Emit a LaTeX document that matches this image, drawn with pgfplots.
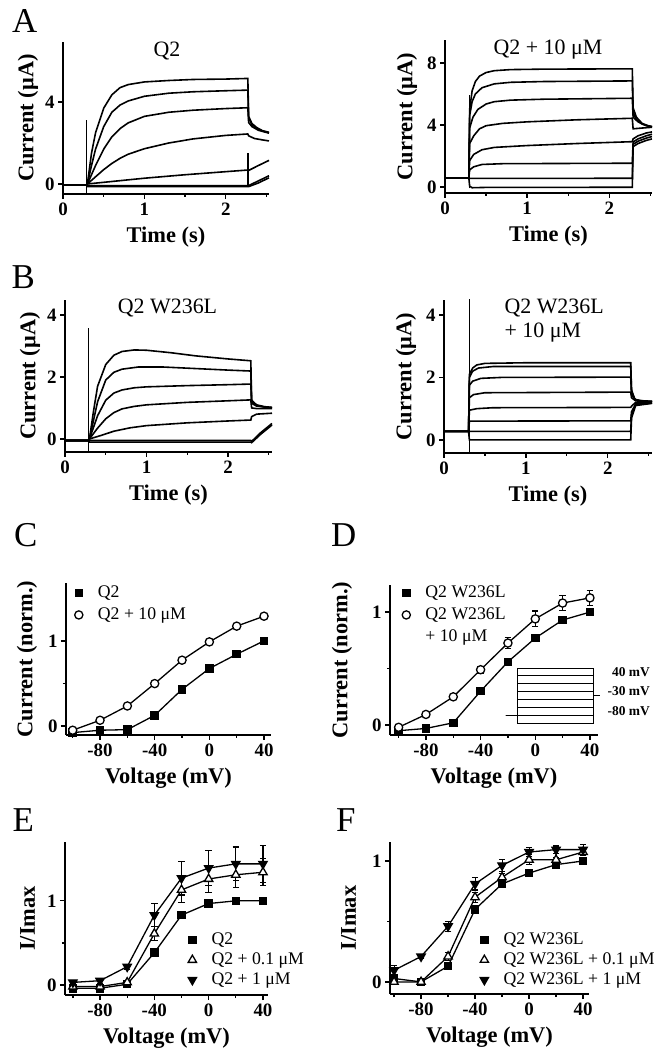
\documentclass[border=0pt]{standalone}
\usepackage{fontspec}
\setmainfont{Liberation Serif}
\usepackage{pgfplots}
\pgfplotsset{compat=1.18}

\newcommand{\tickf}{\fontsize{19}{20}\selectfont\bfseries}
\newcommand{\labf}{\fontsize{22.5}{24}\selectfont\bfseries}
\newcommand{\titf}{\fontsize{22}{24}\selectfont}
\newcommand{\legf}{\fontsize{17.8}{20}\selectfont}
\newcommand{\letf}{\fontsize{35}{36}\selectfont}
\newcommand{\insf}{\fontsize{13.5}{14}\selectfont\bfseries}

\pgfplotsset{
  panel/.style={
    scale only axis, anchor=south west, clip=false,
    axis lines=left, axis line style={-, line width=1.8bp},
    tick align=outside, major tick length=5bp, minor tick length=3bp,
    every tick/.append style={line width=1.3bp, black},
    tick label style={font=\tickf},
    label style={font=\labf},
    xlabel shift=5bp,
    /pgf/number format/assume math mode=true,
  },
  tr/.style={panel, xtick={0,1,2}, minor xtick={0.5,1.5,2.5},
    xmin=0, xlabel={Time (s)}, ylabel={Current (μA)}},
  iv/.style={panel, xtick={-80,-40,0,40}, minor xtick={-100,-60,-20,20},
    ytick={0,1}, minor ytick={0.5}, xlabel={Voltage (mV)},
    legend cell align=left,
    legend image code/.code={\draw[##1, only marks] plot coordinates {(0cm,0cm)};},
    legend style={draw=none, fill=none, font=\legf, inner sep=0pt,
      row sep=2.5bp, column sep=14bp,
      nodes={inner sep=1bp, text height=13bp, text depth=4.5bp},
      at={(axis description cs:0,1)}, anchor=north west}},
  trace/.style={black, line width=1.6bp, no marks},
  sq/.style={black, line width=1.3bp, mark=square*, mark size=3.6bp, mark options={solid, fill=black}},
  ci/.style={black, line width=1.3bp, mark=*, mark size=4.1bp, mark options={solid, fill=white}},
  tu/.style={black, line width=1.3bp, mark=triangle*, mark size=4.8bp, mark options={solid, fill=white}},
  td/.style={black, line width=1.3bp, mark=triangle*, mark size=4.8bp, mark options={solid, fill=black, rotate=180}},
  err/.style={error bars/.cd, y dir=both, y explicit,
    error bar style={line width=1.1bp, black},
    error mark options={rotate=90, mark size=3.2bp, line width=1.1bp, black}},
}

\begin{document}
\begin{tikzpicture}
\path[use as bounding box] (0,0) rectangle (654bp,1049bp);

% ---------- A left: Q2
\begin{axis}[tr, at={(63bp,855bp)}, width=206bp, height=152bp,
  xmax=2.53, ymin=-0.49, ymax=6.93, ytick={0,4}]
\addplot[trace] coordinates {(0,-0.05) (0.29,-0.05) (0.30,0) (0.35,1.5) (0.40,2.5) (0.50,3.7) (0.60,4.35) (0.70,4.70) (0.80,4.85) (1.00,4.98) (1.30,5.05) (1.60,5.10) (2.00,5.12) (2.27,5.15) (2.28,3.30) (2.32,2.95) (2.38,2.75) (2.45,2.60) (2.53,2.52)};
\addplot[trace] coordinates {(0,-0.05) (0.29,-0.05) (0.30,0) (0.35,0.9) (0.40,1.7) (0.50,2.8) (0.60,3.5) (0.70,3.85) (0.80,4.05) (1.00,4.28) (1.30,4.43) (1.60,4.50) (2.00,4.55) (2.27,4.58) (2.28,3.20) (2.32,2.90) (2.38,2.70) (2.45,2.58) (2.53,2.50)};
\addplot[trace] coordinates {(0,-0.05) (0.29,-0.05) (0.30,0) (0.40,0.9) (0.50,1.7) (0.60,2.3) (0.70,2.7) (0.80,2.98) (1.00,3.30) (1.30,3.50) (1.60,3.60) (2.00,3.68) (2.27,3.72) (2.28,3.00) (2.32,2.80) (2.40,2.62) (2.53,2.48)};
\addplot[trace] coordinates {(0,-0.05) (0.29,-0.05) (0.30,0) (0.40,0.35) (0.50,0.70) (0.60,1.00) (0.70,1.25) (0.80,1.45) (1.00,1.72) (1.30,2.00) (1.60,2.20) (2.00,2.37) (2.27,2.44) (2.28,2.35) (2.35,2.22) (2.45,2.15) (2.53,2.10)};
\addplot[trace] coordinates {(0,-0.05) (0.29,-0.05) (0.30,0) (0.60,0.12) (1.00,0.28) (1.50,0.45) (2.00,0.60) (2.27,0.68) (2.28,0.66) (2.40,0.90) (2.53,1.15)};
\addplot[trace] coordinates {(0,-0.05) (0.29,-0.05) (0.30,-0.08) (2.27,-0.08) (2.28,-0.08) (2.40,0.15) (2.53,0.40)};
\addplot[trace] coordinates {(0,-0.05) (0.29,-0.05) (0.30,-0.13) (2.27,-0.13) (2.28,-0.13) (2.40,0.05) (2.53,0.30)};
\addplot[trace] coordinates {(0.29,-0.45) (0.29,3.1)};
\addplot[trace] coordinates {(2.27,-0.15) (2.27,1.5)};
\end{axis}

% ---------- A right: Q2 + 10 uM
\begin{axis}[tr, at={(445bp,856bp)}, width=207bp, height=153bp,
  xmax=2.52, ymin=-0.39, ymax=9.48, ytick={0,4,8}, ylabel shift=3bp]
\addplot[trace] coordinates {(0,0.58) (0.29,0.58) (0.30,5.0) (0.33,6.2) (0.37,6.8) (0.42,7.15) (0.50,7.38) (0.60,7.50) (0.80,7.57) (1.20,7.60) (2.28,7.62) (2.29,5.10) (2.33,4.50) (2.40,4.10) (2.47,3.95) (2.52,3.90)};
\addplot[trace] coordinates {(0,0.58) (0.29,0.58) (0.30,4.6) (0.33,5.5) (0.37,6.0) (0.45,6.4) (0.60,6.65) (0.80,6.75) (1.20,6.80) (2.28,6.84) (2.29,4.80) (2.33,4.35) (2.40,4.05) (2.52,3.88)};
\addplot[trace] coordinates {(0,0.58) (0.29,0.58) (0.30,3.8) (0.34,4.5) (0.40,5.0) (0.50,5.35) (0.60,5.50) (0.80,5.60) (1.20,5.66) (2.28,5.72) (2.29,4.50) (2.35,4.20) (2.45,3.95) (2.52,3.87)};
\addplot[trace] coordinates {(0,0.58) (0.29,0.58) (0.30,2.8) (0.35,3.3) (0.42,3.75) (0.50,3.95) (0.70,4.10) (1.00,4.20) (1.60,4.33) (2.28,4.43) (2.29,3.75) (2.40,3.80) (2.52,3.85)};
\addplot[trace] coordinates {(0,0.58) (0.29,0.58) (0.30,1.7) (0.35,2.1) (0.45,2.4) (0.60,2.55) (1.00,2.67) (1.60,2.80) (2.28,2.92) (2.29,3.10) (2.35,3.30) (2.45,3.48) (2.52,3.55)};
\addplot[trace] coordinates {(0,0.58) (0.29,0.58) (0.30,1.1) (0.35,1.3) (0.45,1.45) (0.70,1.50) (2.28,1.53) (2.29,2.90) (2.35,3.10) (2.45,3.30) (2.52,3.40)};
\addplot[trace] coordinates {(0,0.58) (0.29,0.58) (0.30,0.55) (2.28,0.56) (2.29,2.75) (2.35,2.95) (2.45,3.15) (2.52,3.25)};
\addplot[trace] coordinates {(0,0.58) (0.29,0.58) (0.30,0.05) (0.33,-0.05) (0.50,-0.03) (2.28,-0.02) (2.29,2.60) (2.35,2.80) (2.45,3.00) (2.52,3.10)};
\addplot[trace] coordinates {(0.30,-0.1) (0.30,5.9)};
\end{axis}

% ---------- B left: Q2 W236L
\begin{axis}[tr, at={(65bp,597bp)}, width=207bp, height=152bp,
  xmax=2.54, ymin=-0.42, ymax=4.48, ytick={0,2,4}]
\addplot[trace] coordinates {(0,-0.05) (0.29,-0.05) (0.30,0) (0.35,0.9) (0.40,1.7) (0.50,2.4) (0.60,2.7) (0.70,2.82) (0.85,2.87) (1.00,2.86) (1.30,2.78) (1.60,2.68) (2.00,2.58) (2.28,2.52) (2.29,1.25) (2.35,1.10) (2.45,1.04) (2.54,1.02)};
\addplot[trace] coordinates {(0,-0.05) (0.29,-0.05) (0.30,0) (0.35,0.6) (0.40,1.2) (0.50,1.9) (0.60,2.15) (0.70,2.25) (0.90,2.32) (1.20,2.32) (1.60,2.27) (2.00,2.22) (2.28,2.19) (2.29,1.20) (2.35,1.08) (2.45,1.03) (2.54,1.01)};
\addplot[trace] coordinates {(0,-0.05) (0.29,-0.05) (0.30,0) (0.40,0.75) (0.50,1.25) (0.60,1.48) (0.70,1.58) (0.85,1.65) (1.00,1.68) (1.50,1.72) (2.00,1.75) (2.28,1.77) (2.29,1.15) (2.35,1.06) (2.54,1.00)};
\addplot[trace] coordinates {(0,-0.05) (0.29,-0.05) (0.30,0) (0.40,0.35) (0.50,0.65) (0.60,0.85) (0.70,0.97) (0.85,1.05) (1.00,1.10) (1.50,1.18) (2.00,1.23) (2.28,1.26) (2.29,1.00) (2.35,0.98) (2.54,0.98)};
\addplot[trace] coordinates {(0,-0.05) (0.29,-0.05) (0.30,0) (0.45,0.12) (0.60,0.25) (0.80,0.36) (1.00,0.43) (1.50,0.52) (2.00,0.58) (2.28,0.61) (2.29,0.72) (2.35,0.80) (2.54,0.83)};
\addplot[trace] coordinates {(0,-0.05) (0.29,-0.05) (0.30,-0.05) (2.28,-0.05) (2.29,-0.08) (2.40,0.20) (2.54,0.50)};
\addplot[trace] coordinates {(0,-0.05) (0.29,-0.05) (0.30,-0.10) (2.28,-0.10) (2.29,-0.12) (2.40,0.15) (2.54,0.45)};
\addplot[trace] coordinates {(0.29,-0.42) (0.29,3.58)};
\end{axis}

% ---------- B right: Q2 W236L + 10 uM
\begin{axis}[tr, at={(444bp,596bp)}, width=208bp, height=153bp,
  xmax=2.54, ymin=-0.42, ymax=4.48, ytick={0,2,4}, ylabel shift=3bp]
\addplot[trace] coordinates {(0,0.27) (0.30,0.27) (0.31,2.10) (0.35,2.30) (0.40,2.40) (0.50,2.45) (1.00,2.47) (2.28,2.47) (2.29,1.60) (2.33,1.30) (2.40,1.25) (2.54,1.24)};
\addplot[trace] coordinates {(0,0.27) (0.30,0.27) (0.31,2.00) (0.35,2.20) (0.42,2.30) (0.60,2.35) (2.28,2.35) (2.29,1.55) (2.33,1.30) (2.40,1.24) (2.54,1.23)};
\addplot[trace] coordinates {(0,0.27) (0.30,0.27) (0.31,1.75) (0.35,1.88) (0.45,1.97) (0.70,2.00) (2.28,2.01) (2.29,1.45) (2.34,1.28) (2.54,1.22)};
\addplot[trace] coordinates {(0,0.27) (0.30,0.27) (0.31,1.35) (0.36,1.45) (0.50,1.51) (2.28,1.53) (2.29,1.35) (2.34,1.25) (2.54,1.21)};
\addplot[trace] coordinates {(0,0.27) (0.30,0.27) (0.31,0.95) (0.40,1.00) (0.60,1.03) (2.28,1.04) (2.29,1.08) (2.34,1.20) (2.54,1.20)};
\addplot[trace] coordinates {(0,0.27) (0.30,0.27) (0.31,0.60) (2.28,0.61) (2.29,0.90) (2.34,1.15) (2.54,1.19)};
\addplot[trace] coordinates {(0,0.27) (0.30,0.27) (0.31,0.27) (2.28,0.27) (2.29,0.80) (2.34,1.12) (2.54,1.18)};
\addplot[trace] coordinates {(0,0.27) (0.30,0.27) (0.31,0.00) (2.28,0.00) (2.29,0.70) (2.34,1.10) (2.54,1.17)};
\addplot[trace] coordinates {(0.31,-0.42) (0.31,4.50)};
\end{axis}

% ---------- C
\begin{axis}[iv, at={(66bp,314bp)}, width=205bp, height=152bp,
  xmin=-104.9, xmax=45.1, ymin=-0.106, ymax=1.68,
  ylabel={Current (norm.)}, ylabel shift=4bp,
  legend style={xshift=8.5bp, yshift=0bp}]
\addplot[sq] coordinates {(-100,-0.078) (-80,-0.05) (-60,-0.043) (-40,0.125) (-20,0.43) (0,0.675) (20,0.843) (40,1.0)};
\addplot[ci] coordinates {(-100,-0.05) (-80,0.067) (-60,0.235) (-40,0.498) (-20,0.773) (0,0.988) (20,1.173) (40,1.29)};
\legend{Q2, Q2 + 10 μM}
\end{axis}

% ---------- D
\begin{axis}[iv, at={(390bp,314bp)}, width=208bp, height=150bp,
  xmin=-106.3, xmax=45.9, ymin=-0.088, ymax=1.24,
  ylabel={Current (norm.)}, ylabel shift=13bp,
  legend style={xshift=12bp, yshift=2bp}]
\addplot[sq, err] coordinates {(-100,-0.05) +- (0,0.01) (-80,-0.03) +- (0,0.01) (-60,0.02) +- (0,0.01) (-40,0.30) +- (0,0.015) (-20,0.56) +- (0,0.015) (0,0.77) +- (0,0.015) (20,0.93) +- (0,0.02) (40,1.0) +- (0,0)};
\addplot[ci, err] coordinates {(-100,-0.02) +- (0,0.01) (-80,0.094) +- (0,0.01) (-60,0.25) +- (0,0.015) (-40,0.49) +- (0,0.03) (-20,0.726) +- (0,0.05) (0,0.94) +- (0,0.07) (20,1.08) +- (0,0.065) (40,1.126) +- (0,0.065)};
\addlegendentry{Q2 W236L}
\addlegendentry{Q2 W236L}
\addlegendimage{empty legend}
\addlegendentry{+ 10 μM}
\end{axis}

% voltage protocol inset
\begin{axis}[at={(505.5bp,326bp)}, anchor=south west, scale only axis,
  width=96bp, height=55bp, xmin=0, xmax=2.5, ymin=-100, ymax=40,
  hide axis, clip=false]
\addplot[black, line width=0.9bp, no marks] coordinates {(0,-80) (0.3,-80) (0.3,-100) (2.3,-100) (2.3,-30) (2.45,-30)};
\addplot[black, line width=0.9bp, no marks] coordinates {(0,-80) (0.3,-80) (2.3,-80) (2.3,-30) (2.45,-30)};
\addplot[black, line width=0.9bp, no marks] coordinates {(0,-80) (0.3,-80) (0.3,-60) (2.3,-60) (2.3,-30) (2.45,-30)};
\addplot[black, line width=0.9bp, no marks] coordinates {(0,-80) (0.3,-80) (0.3,-40) (2.3,-40) (2.3,-30) (2.45,-30)};
\addplot[black, line width=0.9bp, no marks] coordinates {(0,-80) (0.3,-80) (0.3,-20) (2.3,-20) (2.3,-30) (2.45,-30)};
\addplot[black, line width=0.9bp, no marks] coordinates {(0,-80) (0.3,-80) (0.3,0) (2.3,0) (2.3,-30) (2.45,-30)};
\addplot[black, line width=0.9bp, no marks] coordinates {(0,-80) (0.3,-80) (0.3,20) (2.3,20) (2.3,-30) (2.45,-30)};
\addplot[black, line width=0.9bp, no marks] coordinates {(0,-80) (0.3,-80) (0.3,40) (2.3,40) (2.3,-30) (2.45,-30)};
\end{axis}

% ---------- E
\begin{axis}[iv, at={(65bp,54bp)}, width=203bp, height=153bp,
  xmin=-105.8, xmax=43.7, ymin=-0.12, ymax=1.70,
  ylabel={I/Imax}, ylabel shift=5bp,
  legend style={xshift=123bp, yshift=-88bp, row sep=0.5bp}]
\addplot[sq, err] coordinates {(-100,-0.04) +- (0,0.01) (-80,-0.04) +- (0,0.01) (-60,0.008) +- (0,0.01) (-40,0.383) +- (0,0.02) (-20,0.83) +- (0,0.03) (0,0.968) +- (0,0.01) (20,1.0) +- (0,0) (40,1.0) +- (0,0)};
\addplot[tu, err] coordinates {(-100,-0.02) +- (0,0.01) (-80,-0.02) +- (0,0.01) (-60,0.03) +- (0,0.02) (-40,0.61) +- (0,0.08) (-20,1.13) +- (0,0.15) (0,1.26) +- (0,0.16) (20,1.31) +- (0,0.15) (40,1.34) +- (0,0.16)};
\addplot[td, err] coordinates {(-100,0.03) +- (0,0.01) (-80,0.05) +- (0,0.03) (-60,0.217) +- (0,0.03) (-40,0.83) +- (0,0.14) (-20,1.27) +- (0,0.2) (0,1.39) +- (0,0.21) (20,1.44) +- (0,0.2) (40,1.44) +- (0,0.22)};
\legend{Q2, Q2 + 0.1 μM, Q2 + 1 μM}
\end{axis}

% ---------- F
\begin{axis}[iv, at={(390bp,55bp)}, width=199bp, height=152bp,
  xmin=-103, xmax=44.4, ymin=-0.1, ymax=1.157,
  ylabel={I/Imax}, ylabel shift=9bp,
  legend style={xshift=90bp, yshift=-88bp, row sep=0.5bp}]
\addplot[sq, err] coordinates {(-100,0.028) +- (0,0.03) (-80,0) +- (0,0.01) (-60,0.13) +- (0,0.02) (-40,0.60) +- (0,0.03) (-20,0.81) +- (0,0.02) (0,0.90) +- (0,0.02) (20,0.97) +- (0,0.015) (40,1.0) +- (0,0)};
\addplot[tu, err] coordinates {(-100,0) +- (0,0.01) (-80,0) +- (0,0.01) (-60,0.21) +- (0,0.03) (-40,0.70) +- (0,0.04) (-20,0.865) +- (0,0.03) (0,1.01) +- (0,0.04) (20,1.01) +- (0,0.02) (40,1.074) +- (0,0.03)};
\addplot[td, err] coordinates {(-100,0.096) +- (0,0.04) (-80,0.21) +- (0,0.02) (-60,0.46) +- (0,0.04) (-40,0.81) +- (0,0.05) (-20,0.964) +- (0,0.05) (0,1.074) +- (0,0.04) (20,1.094) +- (0,0.03) (40,1.094) +- (0,0.04)};
\legend{Q2 W236L, Q2 W236L + 0.1 μM, Q2 W236L + 1 μM}
\end{axis}

% titles
\node[font=\titf, anchor=base] at (167bp,992bp) {Q2};
\node[font=\titf, anchor=base] at (548bp,994bp) {Q2 + 10 μM};
\node[font=\titf, anchor=base] at (167.5bp,735bp) {Q2 W236L};
\node[font=\titf, anchor=base west] at (501bp,735bp) {Q2 W236L};
\node[font=\titf, anchor=base west] at (501bp,711bp) {+ 10 μM};
% inset labels
\node[font=\insf, anchor=base east, inner sep=0pt] at (650bp,372bp) {40 mV};
\node[font=\insf, anchor=base east, inner sep=0pt] at (650bp,353bp) {-30 mV};
\node[font=\insf, anchor=base east, inner sep=0pt] at (650bp,333bp) {-80 mV};
% panel letters
\node[font=\letf, anchor=base west, inner sep=0pt] at (12bp,1016bp) {A};
\node[font=\letf, anchor=base west, inner sep=0pt] at (11.5bp,760bp) {B};
\node[font=\letf, anchor=base west, inner sep=0pt] at (14bp,502bp) {C};
\node[font=\letf, anchor=base west, inner sep=0pt] at (331bp,502bp) {D};
\node[font=\letf, anchor=base west, inner sep=0pt] at (12.5bp,217bp) {E};
\node[font=\letf, anchor=base west, inner sep=0pt] at (336bp,217bp) {F};
\end{tikzpicture}
\end{document}
